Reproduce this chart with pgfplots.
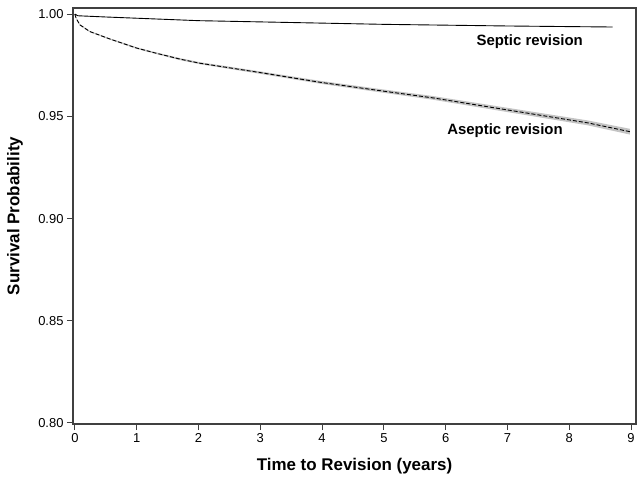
\documentclass[border=0pt]{standalone}
\usepackage{pgfplots}
\pgfplotsset{compat=1.18}
\usepackage{pgfplotstable}
\usepgfplotslibrary{fillbetween}
\usepackage{fontspec}
\setmainfont{Liberation Sans}

\definecolor{frame}{HTML}{404040}
\definecolor{band}{HTML}{C4C4C4}

% Aseptic revision: estimate with confidence band
\pgfplotstableread{
x      y       lo      hi
0      1.0     1.0     1.0
0.02   0.9980  0.9978  0.9982
0.08   0.9948  0.9945  0.9951
0.24   0.9915  0.9912  0.9918
0.57   0.9878  0.9875  0.9881
1.0    0.9834  0.9830  0.9838
1.3    0.9810  0.9806  0.9814
1.7    0.9780  0.9775  0.9785
2.02   0.9760  0.9755  0.9765
3.0    0.9714  0.9708  0.9720
3.96   0.9667  0.9660  0.9674
5.0    0.9623  0.9615  0.9631
5.8    0.9590  0.9581  0.9599
6.7    0.9546  0.9536  0.9556
7.52   0.9506  0.9495  0.9517
8.3    0.9468  0.9456  0.9480
8.98   0.9425  0.9411  0.9439
}\aseptic

% Septic revision
\pgfplotstableread{
x      y
0      1.0
0.05   0.9992
0.5    0.9986
1.0    0.9980
2.0    0.9968
3.0    0.9962
4.0    0.9956
5.0    0.9950
6.0    0.9946
7.0    0.9942
8.0    0.9939
8.7    0.9937
}\septic

\begin{document}
\begin{tikzpicture}[x=1bp,y=1bp]
\begin{axis}[
    name=ax,
    scale only axis,
    width=563bp, height=416bp,
    xmin=-0.03, xmax=9.08,
    ymin=0.7995, ymax=1.003,
    xtick={0,1,...,9},
    ytick={0.80,0.85,0.90,0.95,1.00},
    yticklabel style={/pgf/number format/.cd,fixed,fixed zerofill,precision=2},
    /pgf/number format/assume math mode=true,
    tick label style={font=\fontsize{13}{15}\selectfont, text=black},
    tick align=outside,
    major tick length=6bp,
    xtick pos=bottom, ytick pos=left,
    axis line style={draw=frame, line width=1.2pt},
    every tick/.style={draw=frame, line width=1pt},
    xlabel={\textbf{Time to Revision (years)}},
    ylabel={\textbf{Survival Probability}},
    label style={font=\fontsize{17}{19}\selectfont, inner sep=0pt},
    xlabel style={at={(axis description cs:0.5,-0.101)}, anchor=center},
    ylabel style={at={(axis description cs:-0.103,0.5)}, anchor=center},
    clip=false,
]
\addplot[draw=none, name path=up, forget plot] table[x=x, y=hi] {\aseptic};
\addplot[draw=none, name path=dn, forget plot] table[x=x, y=lo] {\aseptic};
\addplot[band, forget plot] fill between[of=up and dn];
\addplot[black, line width=0.9pt, dash pattern=on 4bp off 2bp] table[x=x, y=y] {\aseptic};
\addplot[black, line width=0.9pt] table[x=x, y=y] {\septic};
\node[font=\bfseries\fontsize{15}{18}\selectfont] at (axis cs:7.36,0.9863) {Septic revision};
\node[font=\bfseries\fontsize{15}{18}\selectfont] at (axis cs:6.96,0.9428) {Aseptic revision};
\end{axis}
% page margins as in the reference
\path ([xshift=-73bp,yshift=-60bp]ax.south west) rectangle ([xshift=8bp,yshift=8bp]ax.north east);
\end{tikzpicture}
\end{document}
